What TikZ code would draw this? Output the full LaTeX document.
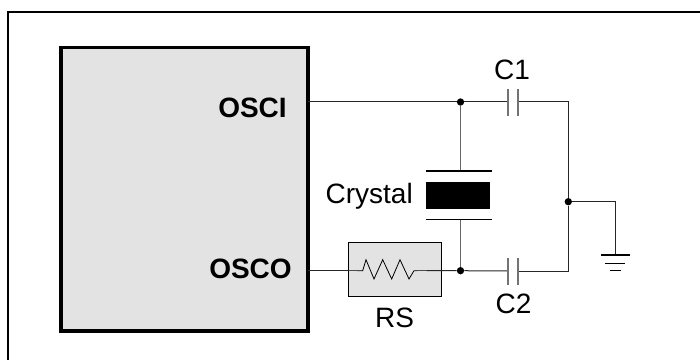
\documentclass[tikz,border=0pt]{standalone}
\usepackage{fontspec}
\setmainfont{Liberation Sans}
\tikzset{
	wire/.style={line width=0.75pt,black!85},
	stub/.style={line width=1pt,black!70},
	dotjoin/.style={circle,fill=black,inner sep=0pt,minimum size=5.5pt},
	pinlabel/.style={font=\bfseries\fontsize{21}{24}\selectfont,inner sep=0pt},
	partlabel/.style={font=\fontsize{21}{24}\selectfont,inner sep=0pt},
	capplate/.style={line width=1.2pt,black!55},
	graybox/.style={draw=black,fill=black!11,inner sep=0pt,outer sep=0pt,anchor=north west}
}
\begin{document}
\begin{tikzpicture}[x=0.75pt,y=0.75pt,yscale=-1,xscale=1]
	%set diagram to the full frame of the picture
	\useasboundingbox (0,0) rectangle (700,360);
	%Outer frame
	\draw [line width=1.5pt] (700,12.5) -- (8,12.5) -- (8,360);
	%Chip
	\node [graybox,line width=2.3pt,minimum width=185.25pt,minimum height=212.6pt] (chip) at (61,47.5) {};
	\node [pinlabel,anchor=east] (osci) at (287,108) {OSCI};
	\node [pinlabel,anchor=east] (osco) at (292,269) {OSCO};
	%Series resistor box
	\node [graybox,line width=0.7pt,minimum width=69.75pt,minimum height=40.5pt] (rsbox) at (348.7,242) {};
	\node [partlabel] (rs) at (394.5,318) {RS};
	%Junctions
	\node [dotjoin] (topdot) at (460.5,102) {};
	\node [dotjoin] (botdot) at (460.5,270.7) {};
	\node [dotjoin] (gnddot) at (568.3,201.7) {};
	%Corners and free ends
	\coordinate (oscipin) at (308,102);
	\coordinate (oscopin) at (308,270.7);
	\coordinate (c1l) at (508,102);
	\coordinate (c1r) at (518,102);
	\coordinate (c2l) at (508,271);
	\coordinate (c2r) at (518,271);
	\coordinate (topright) at (568.3,102);
	\coordinate (botright) at (568.3,271);
	\coordinate (gndcorner) at (615.7,201.7);
	\coordinate (gndtop) at (615.7,255);
	\coordinate (rsl) at (348.7,270.7);
	\coordinate (rsr) at (426.7,270.7);
	\coordinate (xtop) at (460.5,171);
	\coordinate (xbot) at (460.5,219.3);
	%Wires
	\draw [wire] (oscipin) -- (topdot) -- (c1l);
	\draw [wire] (c1r) -- (topright) -- (gnddot) -- (botright) -- (c2r);
	\draw [wire] (c2l) -- (botdot) -- (rsr);
	\draw [wire] (rsl) -- (oscopin);
	\draw [wire,black!60] (topdot) -- (xtop);
	\draw [wire,black!60] (xbot) -- (botdot);
	\draw [wire] (gnddot) -- (gndcorner) -- (gndtop);
	%Resistor
	\draw [line width=0.6pt] (357,270.7) -- (362.7,270.7) -- (366,259.7) -- (374,279) -- (382.7,259.7) -- (391.7,279) -- (400,259.7) -- (409,279) -- (414,270.7) -- (417,270.7);
	\draw [stub] (rsl) -- (357,270.7);
	\draw [stub] (414,270.7) -- (rsr);
	%Capacitors
	\draw [capplate] (508,89) -- (508,116);
	\draw [capplate] (518,89) -- (518,116);
	\draw [capplate] (508,258) -- (508,285);
	\draw [capplate] (518,258) -- (518,285);
	\node [partlabel] (c1) at (512,69.5) {C1};
	\node [partlabel] (c2) at (513.5,304) {C2};
	%Crystal
	\draw [line width=0.8pt] (426,171) -- (492,171);
	\draw [line width=0.8pt] (426,219.3) -- (492,219.3);
	\fill (426,181.7) rectangle (490,208.5);
	\node [partlabel,anchor=east] (crystal) at (413,196) {Crystal};
	%Ground
	\draw [line width=0.8pt] (601,255) -- (629.5,255);
	\draw [line width=0.8pt] (605,263.3) -- (625,263.3);
	\draw [line width=0.8pt] (610,270.7) -- (620.5,270.7);
\end{tikzpicture}
\end{document}
